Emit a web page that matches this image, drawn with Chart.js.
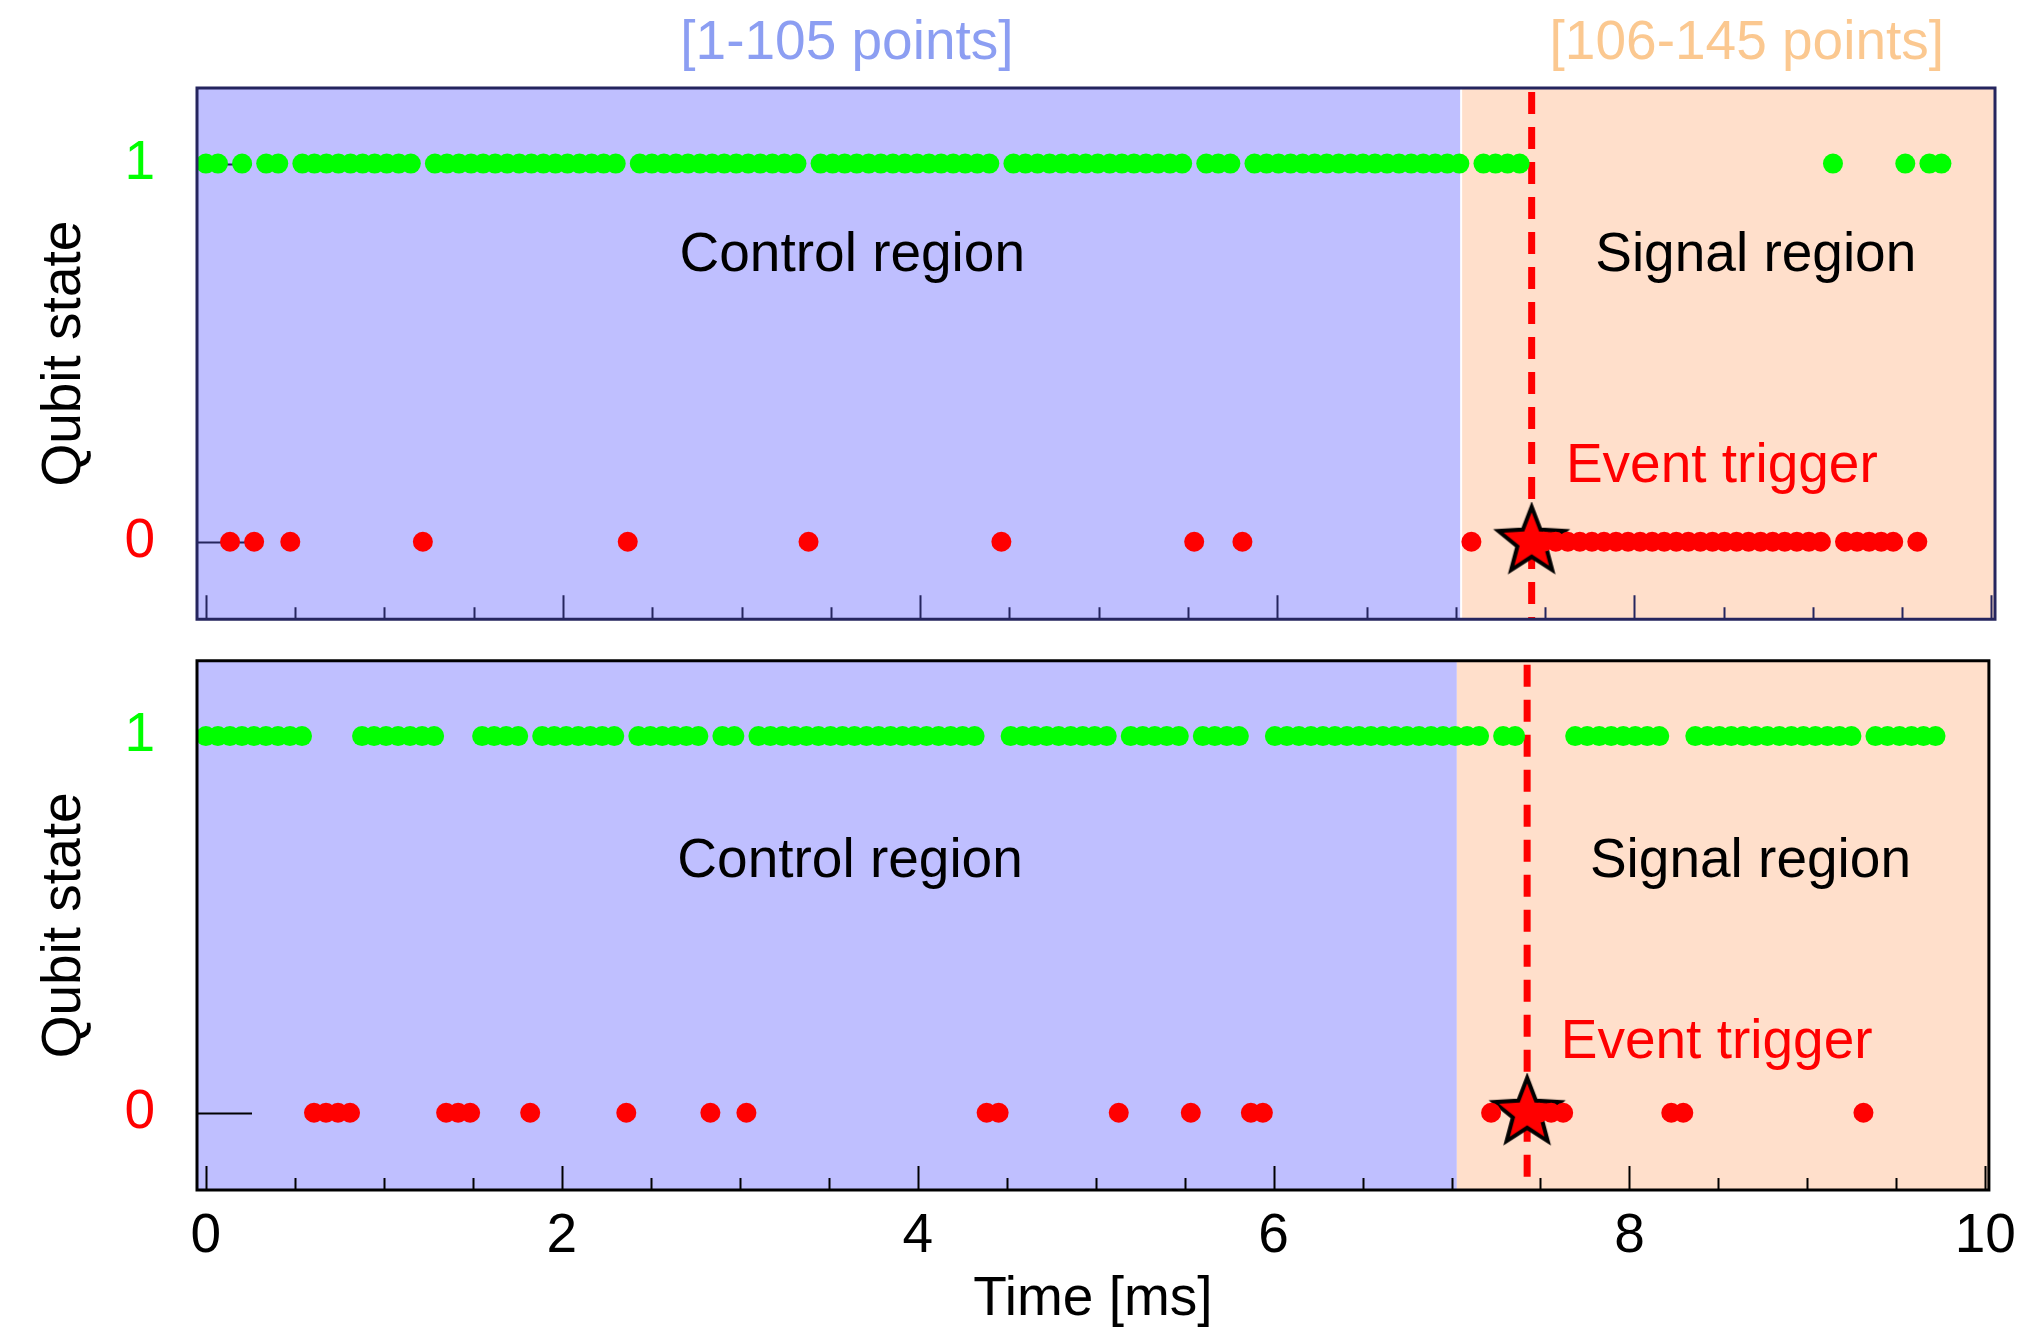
<!DOCTYPE html>
<html>
<head>
<meta charset="utf-8">
<script src="https://cdn.jsdelivr.net/npm/chart.js@4.4.1/dist/chart.umd.min.js"></script>
<style>
  html, body { margin: 0; padding: 0; background: #fff; }
  #wrap { position: relative; width: 2030px; height: 1334px; }
  canvas { position: absolute; left: 0; }
  #topChart { top: 0; }
  #bottomChart { top: 616px; }
</style>
</head>
<body>
<div id="wrap">
  <canvas id="topChart" width="2030" height="664"></canvas>
  <canvas id="bottomChart" width="2030" height="718"></canvas>
</div>
<script>
// readout period, ms (point 1 at t = 0, point 145 at ~9.72 ms)
const sampleStep = 0.0675;
const controlEnd = 7.03;     // points 1-105 | 106-145
const eventTime = 7.425;     // point 111, event trigger
const xTickLabels = [0, 2, 4, 6, 8, 10];
const yTickLabels = [0, 1];

// qubit state of each readout, points 1..145
const statesTop = [
  1,1,0,1,0,1,1,0,1,1,  1,1,1,1,1,1,1,1,0,1,
  1,1,1,1,1,1,1,1,1,1,  1,1,1,1,1,0,1,1,1,1,
  1,1,1,1,1,1,1,1,1,1,  0,1,1,1,1,1,1,1,1,1,
  1,1,1,1,1,1,0,1,1,1,  1,1,1,1,1,1,1,1,1,1,
  1,1,0,1,1,1,0,1,1,1,  1,1,1,1,1,1,1,1,1,1,
  1,1,1,1,1,0,1,1,1,1,  0,0,0,0,0,0,0,0,0,0,
  0,0,0,0,0,0,0,0,0,0,  0,0,0,0,0,1,0,0,0,0,
  0,1,0,1,1
];
const statesBottom = [
  1,1,1,1,1,1,1,1,1,0,  0,0,0,1,1,1,1,1,1,1,
  0,0,0,1,1,1,1,0,1,1,  1,1,1,1,1,0,1,1,1,1,
  1,1,0,1,1,0,1,1,1,1,  1,1,1,1,1,1,1,1,1,1,
  1,1,1,1,1,0,0,1,1,1,  1,1,1,1,1,1,0,1,1,1,
  1,1,0,1,1,1,1,0,0,1,  1,1,1,1,1,1,1,1,1,1,
  1,1,1,1,1,1,1,0,1,1,  0,0,0,0,1,1,1,1,1,1,
  1,1,0,0,1,1,1,1,1,1,  1,1,1,1,1,1,1,1,0,1,
  1,1,1,1,1
];

const FONT = '"Liberation Sans", Arial, Helvetica, sans-serif';
Chart.defaults.font.family = FONT;
Chart.defaults.font.size = 55;

function makeStar(outer, inner) {
  const c = document.createElement('canvas');
  const size = Math.ceil(outer * 2 + 10);
  c.width = c.height = size;
  const g = c.getContext('2d');
  g.translate(size / 2, size / 2);
  g.beginPath();
  for (let i = 0; i < 10; i++) {
    const r = i % 2 ? inner : outer;
    const a = -Math.PI / 2 + i * Math.PI / 5;
    g.lineTo(r * Math.cos(a), r * Math.sin(a));
  }
  g.closePath();
  g.fillStyle = '#ff0000';
  g.fill();
  g.lineWidth = 4;
  g.strokeStyle = '#000';
  g.stroke();
  return c;
}
const starImg = makeStar(35, 15);

function pointsOf(states, value) {
  const out = [];
  states.forEach((s, i) => { if (s === value) out.push({ x: i * sampleStep, y: s }); });
  return out;
}

// shading, dashed trigger line, frame, inward ticks and in-plot texts
const panelDecor = {
  id: 'panelDecor',
  beforeDatasetsDraw(chart, args, opts) {
    const { ctx, chartArea: a, scales: { x } } = chart;
    const xb = x.getPixelForValue(controlEnd);
    ctx.save();
    ctx.fillStyle = '#bfbfff';
    ctx.fillRect(a.left, a.top, xb - a.left, a.bottom - a.top);
    ctx.fillStyle = '#ffdfcb';
    ctx.fillRect(xb, a.top, a.right - xb, a.bottom - a.top);
    if (opts.divider) {
      ctx.fillStyle = '#ffffff';
      ctx.fillRect(xb - 1, a.top, 2, a.bottom - a.top);
    }
    // ticks
    ctx.strokeStyle = opts.frameColor;
    ctx.lineWidth = 2;
    for (let v = 0; v <= 10; v += 0.5) {
      const px = Math.round(x.getPixelForValue(v)) + 0.5;
      const len = v % 2 === 0 ? 24 : 12;
      ctx.beginPath();
      ctx.moveTo(px, a.bottom);
      ctx.lineTo(px, a.bottom - len);
      ctx.stroke();
    }
    const y = chart.scales.y;
    yTickLabels.forEach(v => {
      const py = Math.round(y.getPixelForValue(v)) + 0.5;
      ctx.beginPath();
      ctx.moveTo(a.left, py);
      ctx.lineTo(a.left + 55, py);
      ctx.stroke();
    });
    // event trigger line
    const xe = x.getPixelForValue(eventTime);
    ctx.strokeStyle = '#ff0000';
    ctx.lineWidth = 7;
    ctx.setLineDash([22, 13]);
    ctx.beginPath();
    ctx.moveTo(xe, a.top + 4);
    ctx.lineTo(xe, a.bottom);
    ctx.stroke();
    ctx.restore();
  },
  afterDatasetsDraw(chart, args, opts) {
    const { ctx, chartArea: a, scales: { x, y } } = chart;
    ctx.save();
    ctx.strokeStyle = opts.frameColor;
    ctx.lineWidth = 3;
    ctx.strokeRect(a.left, a.top, a.right - a.left, a.bottom - a.top);
    ctx.font = '55px ' + FONT;
    ctx.textAlign = 'center';
    ctx.textBaseline = 'middle';
    (opts.texts || []).forEach(t => {
      ctx.fillStyle = t.color;
      const py = t.above != null ? a.top - t.above : y.getPixelForValue(t.y);
      ctx.fillText(t.text, x.getPixelForValue(t.x), py);
    });
    ctx.restore();
  }
};

function makeChart(id, states, withXLabels, decor) {
  return new Chart(document.getElementById(id), {
    type: 'scatter',
    data: {
      datasets: [
        { data: pointsOf(states, 1), backgroundColor: '#00ff00', borderWidth: 0, pointRadius: 10 },
        { data: pointsOf(states, 0), backgroundColor: '#ff0000', borderWidth: 0, pointRadius: 10 },
        { data: [{ x: eventTime, y: 0 }], pointStyle: starImg, pointRadius: 30 }
      ]
    },
    options: {
      responsive: false,
      animation: false,
      events: [],
      layout: {
        // the y labels' own padding (~44px) sets the free edge of each panel
        padding: withXLabels ? { top: 0, right: 35, bottom: 0, left: 0 }
                             : { top: 88, right: 35, bottom: 0, left: 0 }
      },
      plugins: {
        legend: { display: false },
        tooltip: { enabled: false },
        panelDecor: decor
      },
      scales: {
        x: {
          type: 'linear',
          min: -0.05,
          max: 10.02,
          display: withXLabels,
          grid: { display: false, drawTicks: false },
          border: { display: false },
          afterBuildTicks: s => { s.ticks = xTickLabels.map(v => ({ value: v })); },
          afterFit: s => { s.height = withXLabels ? 144 : 0; },
          ticks: { color: '#000', padding: 14, autoSkip: false, maxRotation: 0 },
          title: { display: true, text: 'Time [ms]', color: '#000', padding: { top: 0, bottom: 1 } }
        },
        y: {
          min: -0.205,
          max: 1.2,
          grid: { display: false, drawTicks: false },
          border: { display: false },
          afterBuildTicks: s => { s.ticks = yTickLabels.map(v => ({ value: v })); },
          afterFit: s => { s.width = 197; },
          ticks: {
            padding: 42,
            font: { size: 55, lineHeight: 0.1 },
            color: c => c.tick.value === 1 ? '#00ff00' : '#ff0000'
          },
          title: { display: true, text: 'Qubit state', color: '#000', padding: { top: 32, bottom: 0 } }
        }
      }
    },
    plugins: [panelDecor]
  });
}

makeChart('topChart', statesTop, false, {
  frameColor: '#25255e',
  divider: true,
  texts: [
    { text: '[1-105 points]', x: 3.59, above: 44, color: '#8c9ef2' },
    { text: '[106-145 points]', x: 8.63, above: 44, color: '#fbc890' },
    { text: 'Control region', x: 3.62, y: 0.757, color: '#000' },
    { text: 'Signal region', x: 8.68, y: 0.757, color: '#000' },
    { text: 'Event trigger', x: 8.49, y: 0.198, color: '#ff0000' }
  ]
});
makeChart('bottomChart', statesBottom, true, {
  frameColor: '#000',
  divider: false,
  texts: [
    { text: 'Control region', x: 3.62, y: 0.665, color: '#000' },
    { text: 'Signal region', x: 8.68, y: 0.665, color: '#000' },
    { text: 'Event trigger', x: 8.49, y: 0.185, color: '#ff0000' }
  ]
});
</script>
</body>
</html>
